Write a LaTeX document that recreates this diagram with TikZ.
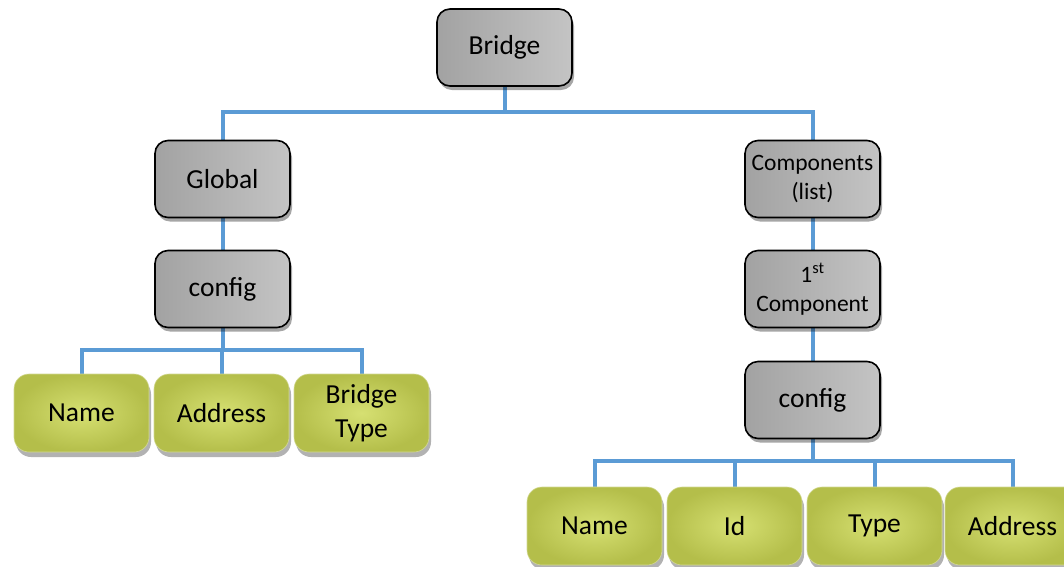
\documentclass[tikz,border=0pt]{standalone}
\usepackage{fontspec}
\setmainfont{Carlito}
\usetikzlibrary{shadows,backgrounds}
\definecolor{conncol}{HTML}{5B9BD5}
\definecolor{grayL}{HTML}{A2A2A2}
\definecolor{grayR}{HTML}{C4C4C4}
\definecolor{greenIn}{HTML}{D6E072}
\definecolor{greenOut}{HTML}{B4BE4A}
\tikzset{
  graybox/.style={draw=black, line width=1.6pt, rounded corners=13pt,
    left color=grayL, right color=grayR,
    minimum width=135pt, minimum height=77pt, align=center, inner sep=2pt,
    font=\fontsize{27.5}{31}\selectfont,
    drop shadow={shadow xshift=2pt, shadow yshift=-4pt, opacity=0.35, fill=black}},
  smallfont/.style={font=\fontsize{23.5}{29}\selectfont},
  leafbox/.style={draw=greenOut!60!white, line width=0.6pt, rounded corners=15pt,
    inner color=greenIn, outer color=greenOut,
    minimum width=135pt, minimum height=78pt, align=center, inner sep=2pt,
    font=\fontsize{27.5}{34}\selectfont,
    drop shadow={shadow xshift=2pt, shadow yshift=-5pt, opacity=0.3, fill=black}},
  conn/.style={draw=conncol, line width=4pt}
}
\begin{document}
\begin{tikzpicture}[x=1pt,y=-1pt]
\useasboundingbox (0,0) rectangle (1064,566);
\clip (0,0) rectangle (1064,566);
% gray nodes
\node[graybox] (bridge) at (504.5,47.5) {Bridge};
\node[graybox] (global) at (222.5,179) {Global};
\node[graybox] (lconfig) at (222.5,289) {config};
\node[graybox,smallfont] (comps) at (812.5,179) {Components\\(list)};
\node[graybox,smallfont] (first) at (812.5,289) {1\textsuperscript{st}\\Component};
\node[graybox] (rconfig) at (812.5,400) {config};
% left leaves
\node[leafbox] (lname) at (81.5,413) {Name};
\node[leafbox] (laddr) at (221.5,413) {Address};
\node[leafbox] (ltype) at (361.5,413) {Bridge\\Type};
% right leaves
\node[leafbox] (rname) at (594.5,526) {Name};
\node[leafbox] (rid) at (734.5,526) {Id};
\node[leafbox] (rtype) at (874.5,526) {Type};
\node[leafbox] (raddr) at (1012.5,526) {Address};
% connectors
\begin{scope}[on background layer]
\draw[conn] (bridge.south) -- ++(0,25) -| (global.north);
\draw[conn] (bridge.south) -- ++(0,25) -| (comps.north);
\draw[conn] (global.south) -- (lconfig.north);
\draw[conn] (lconfig.south) -- ++(0,22) -| (lname.north);
\draw[conn] (lconfig.south) -- ++(0,22) -| (laddr.north);
\draw[conn] (lconfig.south) -- ++(0,22) -| (ltype.north);
\draw[conn] (comps.south) -- (first.north);
\draw[conn] (first.south) -- (rconfig.north);
\draw[conn] (rconfig.south) -- ++(0,22) -| (rname.north);
\draw[conn] (rconfig.south) -- ++(0,22) -| (rid.north);
\draw[conn] (rconfig.south) -- ++(0,22) -| (rtype.north);
\draw[conn] (rconfig.south) -- ++(0,22) -| (raddr.north);
\end{scope}
\end{tikzpicture}
\end{document}
